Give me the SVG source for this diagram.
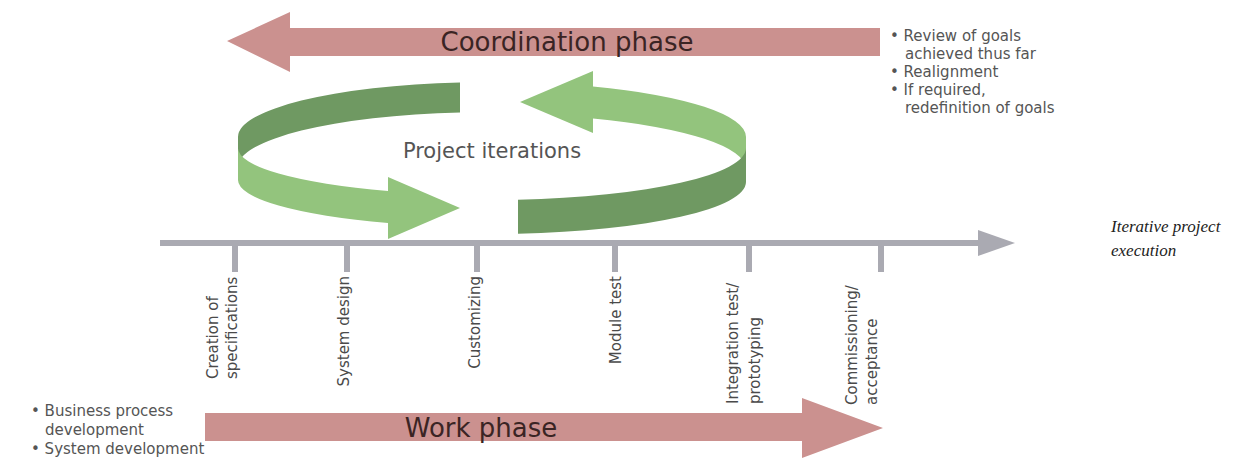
<svg xmlns="http://www.w3.org/2000/svg" width="1258" height="462" viewBox="0 0 1258 462">
<style>
.phase{fill:#cb918f}
.phase-label{font-family:"DejaVu Sans",sans-serif;font-size:26px;fill:#3a2424;text-anchor:middle}
.note{font-family:"DejaVu Sans",sans-serif;font-size:15px;fill:#555}
.dark{fill:#6f9962}
.light{fill:#93c47d}
.axis{fill:#aaaab2}
.tick{stroke:#aaaab2;stroke-width:6}
.tick-label{font-family:"DejaVu Sans",sans-serif;font-size:15px;fill:#4a4a4a}
.iter-label{font-family:"DejaVu Sans",sans-serif;font-size:21px;fill:#555;text-anchor:middle}
.caption{font-family:"Liberation Serif",serif;font-style:italic;font-size:17px;fill:#222}
</style>
<rect width="1258" height="462" fill="#ffffff"/>

<g id="coordination-phase">
  <polygon class="phase" points="227,41 290,12 290,28 880,28 880,56 290,56 290,72"/>
  <text class="phase-label" x="567" y="51">Coordination phase</text>
</g>

<g id="coordination-notes">
  <text class="note" x="890" y="41">• Review of goals</text>
  <text class="note" x="905" y="59">achieved thus far</text>
  <text class="note" x="890" y="77">• Realignment</text>
  <text class="note" x="890" y="95">• If required,</text>
  <text class="note" x="905" y="113">redefinition of goals</text>
</g>

<g id="project-iterations">
  <path class="dark" d="M460,82.4 A254,55 0 0 0 238,137 L238,167 A254,55 0 0 1 460,112.4 Z"/>
  <path class="light" d="M238,148 A254,47 0 0 0 388,191 L388,223 A254,47 0 0 1 238,180 Z"/>
  <polygon class="light" points="388,177 460,208 388,239"/>
  <path class="light" d="M593,86.5 A254,55 0 0 1 746,137 L746,169 A254,55 0 0 0 593,118.5 Z"/>
  <polygon class="light" points="593,71 520,102 593,133"/>
  <path class="dark" d="M746,148 A254,52 0 0 1 518,199.7 L518,233.7 A254,52 0 0 0 746,182 Z"/>
  <text class="iter-label" x="492" y="158">Project iterations</text>
</g>

<g id="timeline">
  <rect class="axis" x="160" y="240" width="820" height="6"/>
  <polygon class="axis" points="978,230 1015,243 978,256"/>
  <line class="tick" x1="235" y1="243" x2="235" y2="272"/>
  <line class="tick" x1="347" y1="243" x2="347" y2="272"/>
  <line class="tick" x1="477" y1="243" x2="477" y2="272"/>
  <line class="tick" x1="615" y1="243" x2="615" y2="272"/>
  <line class="tick" x1="749" y1="243" x2="749" y2="272"/>
  <line class="tick" x1="881" y1="243" x2="881" y2="272"/>
</g>

<g id="step-specifications">
  <text class="tick-label" transform="translate(218,379) rotate(-90)">Creation of</text>
  <text class="tick-label" transform="translate(237,379) rotate(-90)">specifications</text>
</g>
<g id="step-system-design">
  <text class="tick-label" text-anchor="end" transform="translate(349,276) rotate(-90)">System design</text>
</g>
<g id="step-customizing">
  <text class="tick-label" text-anchor="end" transform="translate(480,276) rotate(-90)">Customizing</text>
</g>
<g id="step-module-test">
  <text class="tick-label" text-anchor="end" transform="translate(621,276) rotate(-90)">Module test</text>
</g>
<g id="step-integration">
  <text class="tick-label" transform="translate(738,404) rotate(-90)">Integration test/</text>
  <text class="tick-label" transform="translate(760,404) rotate(-90)">prototyping</text>
</g>
<g id="step-commissioning">
  <text class="tick-label" transform="translate(857,405) rotate(-90)">Commissioning/</text>
  <text class="tick-label" transform="translate(877,405) rotate(-90)">acceptance</text>
</g>

<g id="work-phase">
  <polygon class="phase" points="205,413 802,413 802,398 883,428 802,458 802,441 205,441"/>
  <text class="phase-label" x="481" y="437">Work phase</text>
</g>

<g id="work-notes">
  <text class="note" x="31" y="416">• Business process</text>
  <text class="note" x="45" y="435">development</text>
  <text class="note" x="31" y="454">• System development</text>
</g>

<g id="caption">
  <text class="caption" x="1111" y="232">Iterative project</text>
  <text class="caption" x="1111" y="256">execution</text>
</g>
</svg>
